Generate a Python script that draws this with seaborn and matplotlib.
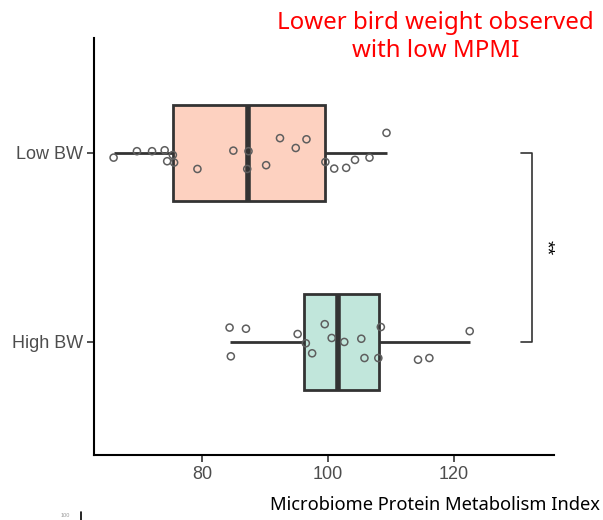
import numpy as np
import pandas as pd
import matplotlib
matplotlib.use("Agg")
import matplotlib.pyplot as plt
import seaborn as sns

# Groups (top to bottom) and their MPMI values
groups = ["Low BW", "High BW"]
low_bw_mpmi = [66.0, 69.7, 72.1, 74.1, 75.4, 74.5, 75.6, 79.3, 85.0, 87.4, 87.2,
               90.2, 92.4, 94.9, 96.6, 99.6, 101.0, 102.9, 104.3, 106.6, 109.3]
high_bw_mpmi = [84.4, 87.0, 84.6, 95.2, 96.5, 97.5, 99.5, 100.6, 102.6, 105.3,
                105.8, 108.0, 108.4, 114.3, 116.1, 122.5]

# Vertical jitter applied to the individual points
low_bw_jitter = [0.025, -0.009, -0.009, -0.014, 0.011, 0.044, 0.051, 0.085, -0.012, -0.009, 0.085,
                 0.065, -0.078, -0.026, -0.072, 0.048, 0.083, 0.079, 0.037, 0.025, -0.106]
high_bw_jitter = [-0.076, -0.070, 0.076, -0.042, 0.007, 0.060, -0.094, -0.021, 0.0, -0.017,
                  0.085, 0.085, -0.079, 0.094, 0.085, -0.057]

x_ticks = [80, 100, 120]
signif_label = "**"

df = pd.DataFrame({
    "group": [groups[0]] * len(low_bw_mpmi) + [groups[1]] * len(high_bw_mpmi),
    "mpmi": low_bw_mpmi + high_bw_mpmi,
    "jitter": low_bw_jitter + high_bw_jitter,
})
df["ypos"] = df["group"].map({g: i for i, g in enumerate(groups)}) + df["jitter"]

sns.set_theme(style="white")
plt.rcParams["font.family"] = ["Liberation Sans", "DejaVu Sans"]

fig = plt.figure(figsize=(6.03, 5.2), dpi=100)
ax = fig.add_axes([0.156, 0.125, 0.763, 0.802])

palette = {"Low BW": "#FC8D62", "High BW": "#66C2A5"}
sns.boxplot(data=df, x="mpmi", y="group", order=groups, hue="group",
            palette=palette, saturation=1, width=0.51, whis=1.5, fliersize=0,
            linewidth=2, linecolor="#333333", showcaps=False,
            medianprops=dict(linewidth=4, color="#333333"),
            legend=False, ax=ax)
# translucent fill, opaque outline
for patch in ax.patches:
    fc = patch.get_facecolor()
    patch.set_alpha(None)
    patch.set_facecolor((fc[0], fc[1], fc[2], 0.4))
    patch.set_edgecolor("#333333")

sns.scatterplot(data=df, x="mpmi", y="ypos", ax=ax, s=26, marker="o",
                facecolor="none", edgecolor="#5E5E5E", linewidth=1.1, zorder=5)

# significance bracket between the two groups
ax.plot([130.6, 132.4, 132.4, 130.6], [0, 0, 1, 1], color="#333333", lw=1.2, clip_on=False)
ax.text(134.5, 0.5, signif_label, rotation=-90, ha="center", va="center",
        fontsize=14, color="black")

ax.set_xlim(62.9, 135.9)
ax.set_ylim(1.598, -0.608)
ax.set_xticks(x_ticks)
ax.set_xticklabels([str(t) for t in x_ticks])
ax.set_yticks([0, 1])
ax.set_yticklabels(groups)
ax.set_xlabel("")
ax.set_ylabel("")
ax.tick_params(axis="both", direction="out", length=5, width=1.2, color="#333333",
               labelsize=13, labelcolor="#4D4D4D", pad=3, bottom=True, left=True)

for side in ["top", "right"]:
    ax.spines[side].set_visible(False)
for side in ["left", "bottom"]:
    ax.spines[side].set_color("black")
    ax.spines[side].set_linewidth(1.5)

fig.text(0.995, 0.028, "Microbiome Protein Metabolism Index", ha="right", va="center",
         fontsize=13.2, color="black", family=["Noto Sans", "DejaVu Sans"])
fig.text(0.722, 0.929, "Lower bird weight observed\nwith low MPMI", ha="center", va="center",
         fontsize=17.3, color="red", linespacing=1.2, family=["Noto Sans", "DejaVu Sans"])

# fragment of the neighbouring panel at the lower-left edge
fig.add_artist(plt.Line2D([81 / 603, 81 / 603], [0, 8 / 520], color="black", lw=1.2))
fig.text(70 / 603, 2 / 520, "100", ha="right", va="bottom", fontsize=4, color="#9A9A9A")

fig.savefig("out.png", dpi=100)
